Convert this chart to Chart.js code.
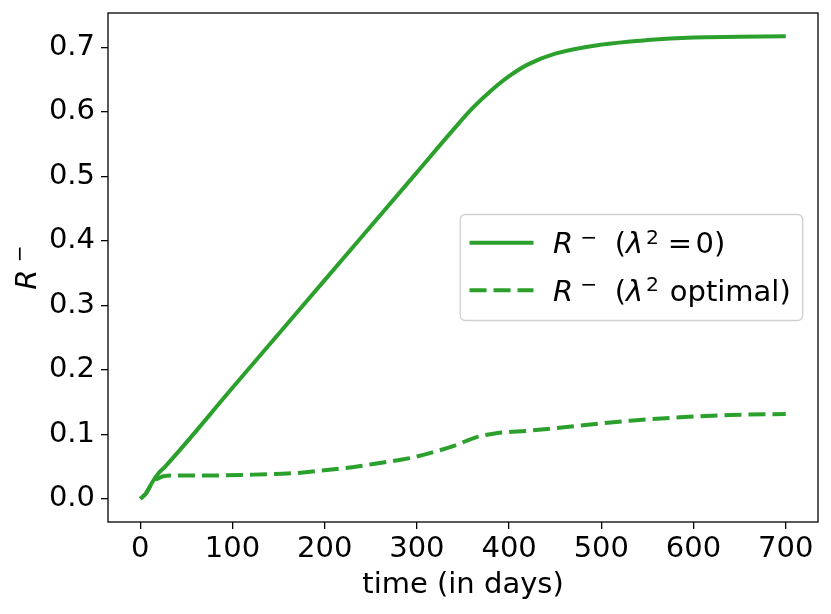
<!DOCTYPE html>
<html>
<head>
<meta charset="utf-8">
<script src="https://cdn.jsdelivr.net/npm/chart.js@4.4.0/dist/chart.umd.min.js"></script>
<style>
  html, body { margin: 0; padding: 0; background: #fff; }
  #wrap { width: 831px; height: 614px; }
</style>
</head>
<body>
<div id="wrap"><canvas id="rChart"></canvas></div>
<script>
// values
const solidDays   = [0, 6, 14, 20, 27, 100, 200, 300, 340, 360, 380, 400, 420, 450, 500, 550, 600, 650, 700];
const solidValues = [0, 0.008, 0.028, 0.040, 0.050, 0.172, 0.339, 0.506, 0.573, 0.605, 0.632, 0.655, 0.673, 0.690, 0.704, 0.711, 0.715, 0.716, 0.717];

const optDays   = [0, 6, 14, 20, 25, 40, 70, 110, 170, 205, 230, 260, 292, 317, 343, 364, 386, 422, 477, 531, 585, 640, 700];
const optValues = [0, 0.008, 0.027, 0.032, 0.035, 0.036, 0.036, 0.037, 0.040, 0.045, 0.049, 0.0556, 0.063, 0.072, 0.0835, 0.0953, 0.1015, 0.1056, 0.1133, 0.1211, 0.1262, 0.1298, 0.1314];

const seriesLabels = ['R⁻ (λ²=0)', 'R⁻ (λ² optimal)'];
const xTicks = [0, 100, 200, 300, 400, 500, 600, 700];
const yTicks = [0, 0.1, 0.2, 0.3, 0.4, 0.5, 0.6, 0.7];
const xTitle = 'time (in days)';
const yTitle = 'R⁻';

const green = '#2ca02c';
const FONT = "'DejaVu Sans', sans-serif";
const SIZE = 29;

// mathtext-like drawing: italic R / λ, raised superscripts, wider spaces
function drawRich(ctx, text, x, y, size, measureOnly) {
  let w = 0;
  let prev = '';
  for (const ch of text) {
    let c = ch, sup = false, italic = false;
    if (ch === '⁻') { c = '−'; sup = true; }
    else if (ch === '²') { c = '2'; sup = true; }
    else if (ch === 'R' || ch === 'λ') italic = true;
    if (ch === ' ') {
      w += size * (prev === '⁻' ? 0.6 : 0.37);
      prev = ch;
      continue;
    }
    if (sup && (prev === 'R' || prev === 'λ')) w += (c === '−' ? 0.25 : 0.1) * size;
    if (ch === '=') w += size * 0.3;
    const s = sup ? size * 0.7 : size;
    ctx.font = (italic ? 'italic ' : '') + s + 'px ' + FONT;
    if (!measureOnly) ctx.fillText(c, x + w, sup ? y - size * 0.33 : y);
    w += ctx.measureText(c).width;
    if (ch === '=') w += size * 0.12;
    prev = ch;
  }
  return w;
}

const extras = {
  id: 'extras',
  afterDraw(chart) {
    const { ctx, chartArea: a } = chart;
    ctx.save();
    // frame
    ctx.strokeStyle = '#000';
    ctx.lineWidth = 1.3;
    ctx.strokeRect(a.left, a.top, a.right - a.left, a.bottom - a.top);

    // y axis title
    ctx.fillStyle = '#000';
    ctx.textBaseline = 'alphabetic';
    ctx.textAlign = 'left';
    const tw = drawRich(ctx, yTitle, 0, 0, SIZE, true);
    ctx.save();
    ctx.translate(36, (a.top + a.bottom) / 2 + tw / 2);
    ctx.rotate(-Math.PI / 2);
    drawRich(ctx, yTitle, 0, 0, SIZE);
    ctx.restore();

    // legend, center right
    const ds = chart.data.datasets;
    let maxW = 0;
    ds.forEach(d => { maxW = Math.max(maxW, drawRich(ctx, d.label, 0, 0, SIZE, true)); });
    const bw = 92.7 + maxW + 12;
    const bh = 106;
    const bx = a.right - 15.3 - bw;
    const by = (a.top + a.bottom) / 2 - bh / 2;
    ctx.beginPath();
    ctx.roundRect(bx, by, bw, bh, 5);
    ctx.fillStyle = 'rgba(255,255,255,0.8)';
    ctx.fill();
    ctx.strokeStyle = '#d0d0d0';
    ctx.lineWidth = 1.3;
    ctx.stroke();
    ds.forEach((d, i) => {
      const ry = by + 28.3 + i * 47.4;
      ctx.beginPath();
      ctx.setLineDash(d.borderDash || []);
      ctx.strokeStyle = d.borderColor;
      ctx.lineWidth = d.borderWidth;
      ctx.moveTo(bx + 9.3, ry);
      ctx.lineTo(bx + 73.3, ry);
      ctx.stroke();
      ctx.setLineDash([]);
      ctx.fillStyle = '#000';
      drawRich(ctx, d.label, bx + 92.7, ry + 10.4, SIZE);
    });
    ctx.restore();
  }
};

new Chart(document.getElementById('rChart'), {
  type: 'line',
  data: {
    datasets: [
      {
        label: seriesLabels[0],
        data: solidDays.map((d, i) => ({ x: d, y: solidValues[i] })),
        borderColor: green,
        borderWidth: 4,
        pointRadius: 0,
        cubicInterpolationMode: 'monotone',
        fill: false
      },
      {
        label: seriesLabels[1],
        data: optDays.map((d, i) => ({ x: d, y: optValues[i] })),
        borderColor: green,
        borderWidth: 4,
        borderDash: [17, 7],
        pointRadius: 0,
        cubicInterpolationMode: 'monotone',
        fill: false
      }
    ]
  },
  options: {
    responsive: true,
    maintainAspectRatio: false,
    animation: false,
    layout: { padding: { top: 13, right: 13, left: 0, bottom: 0 } },
    plugins: { legend: { display: false }, tooltip: { enabled: false } },
    scales: {
      x: {
        type: 'linear',
        min: -35,
        max: 735,
        afterBuildTicks: s => { s.ticks = xTicks.map(v => ({ value: v })); },
        afterFit: s => { s.height = 92; s.paddingLeft = 0; s.paddingRight = 0; },
        grid: { drawOnChartArea: false, drawTicks: true, tickLength: 7, color: '#000', lineWidth: 1.3 },
        border: { display: false },
        ticks: { autoSkip: false, maxRotation: 0, padding: 3, color: '#000', font: { family: FONT, size: SIZE } },
        title: { display: true, text: xTitle, color: '#000', font: { family: FONT, size: SIZE }, padding: { top: 0, bottom: 11 } }
      },
      y: {
        type: 'linear',
        min: -0.036,
        max: 0.753,
        afterBuildTicks: s => { s.ticks = yTicks.map(v => ({ value: v })); },
        afterFit: s => { s.width = 108; s.paddingTop = 0; s.paddingBottom = 0; },
        grid: { drawOnChartArea: false, drawTicks: true, tickLength: 7, color: '#000', lineWidth: 1.3 },
        border: { display: false },
        ticks: { autoSkip: false, padding: 6, color: '#000', font: { family: FONT, size: SIZE }, callback: v => v.toFixed(1) }
      }
    }
  },
  plugins: [extras]
});
</script>
</body>
</html>
